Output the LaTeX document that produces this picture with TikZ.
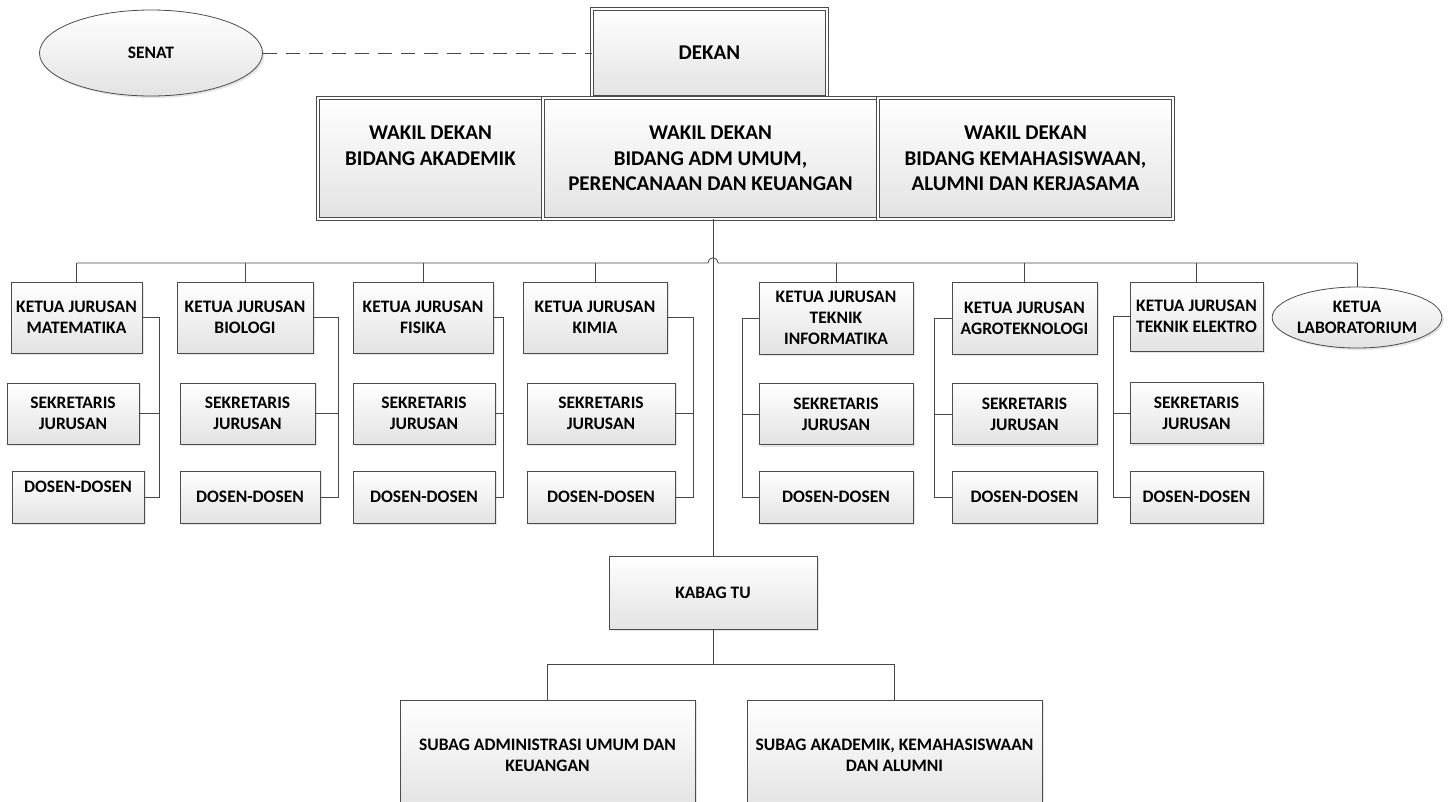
\documentclass[tikz,border=0pt]{standalone}
\usepackage{fontspec}
\setmainfont{Carlito}
\usetikzlibrary{calc,positioning,shapes,shadows}

\begin{document}
\begin{tikzpicture}[x=1pt,y=-1pt]
\tikzstyle{box}=[rectangle, draw=black!70, line width=0.8pt, top color=white, bottom color=black!11, drop shadow={shadow xshift=2pt, shadow yshift=-2pt, opacity=0.2}, inner sep=0pt, align=center, font=\bfseries\fontsize{17.5}{21}\selectfont]
\tikzstyle{dbox}=[box, double=white, double distance=2pt, line width=0.7pt, font=\bfseries\fontsize{21}{25.5}\selectfont]
\tikzstyle{oval}=[box, ellipse]
\tikzstyle{wire}=[draw=black!72, line width=0.8pt]
\path[use as bounding box, fill=white] (0,0) rectangle (1451,801);

\node[oval, minimum width=223pt, minimum height=86pt] (senat) at (151,53) {SENAT};
\node[dbox, minimum width=235pt, minimum height=88pt] (dekan) at (709.5,53) {DEKAN};
\node[dbox, minimum width=225pt, minimum height=121pt] (wa) at (430.5,158.5) {WAKIL DEKAN\\BIDANG AKADEMIK\\~};
\node[dbox, minimum width=335pt, minimum height=121pt] (wb) at (710.5,158.5) {WAKIL DEKAN\\BIDANG ADM UMUM,\\PERENCANAAN DAN KEUANGAN};
\node[dbox, minimum width=295pt, minimum height=121pt] (wc) at (1025.5,158.5) {WAKIL DEKAN\\BIDANG KEMAHASISWAAN,\\ALUMNI DAN KERJASAMA};

\node[box, minimum width=131pt, minimum height=71pt] (k1) at (76.5,317.5) {KETUA JURUSAN\\MATEMATIKA};
\node[box, minimum width=136pt, minimum height=71pt] (k2) at (245,317.5) {KETUA JURUSAN\\BIOLOGI};
\node[box, minimum width=140pt, minimum height=71pt] (k3) at (423,317.5) {KETUA JURUSAN\\FISIKA};
\node[box, minimum width=144pt, minimum height=71pt] (k4) at (595,317.5) {KETUA JURUSAN\\KIMIA};
\node[box, minimum width=154pt, minimum height=72pt] (k5) at (836,318) {KETUA JURUSAN\\TEKNIK\\INFORMATIKA};
\node[box, minimum width=145pt, minimum height=72pt] (k6) at (1024.5,318) {KETUA JURUSAN\\AGROTEKNOLOGI};
\node[box, minimum width=133pt, minimum height=69pt] (k7) at (1196.5,316.5) {KETUA JURUSAN\\TEKNIK ELEKTRO};
\node[oval, minimum width=168pt, minimum height=61pt] (lab) at (1357,317.5) {KETUA\\LABORATORIUM};

\node[box, minimum width=132pt, minimum height=61pt] (s1) at (73,413.5) {SEKRETARIS\\JURUSAN};
\node[box, minimum width=135pt, minimum height=61pt] (s2) at (247.5,413.5) {SEKRETARIS\\JURUSAN};
\node[box, minimum width=142pt, minimum height=61pt] (s3) at (424,413.5) {SEKRETARIS\\JURUSAN};
\node[box, minimum width=148pt, minimum height=61pt] (s4) at (601,413.5) {SEKRETARIS\\JURUSAN};
\node[box, minimum width=154pt, minimum height=61pt] (s5) at (836,414) {SEKRETARIS\\JURUSAN};
\node[box, minimum width=145pt, minimum height=61pt] (s6) at (1024.5,414) {SEKRETARIS\\JURUSAN};
\node[box, minimum width=133pt, minimum height=61pt] (s7) at (1196.5,413) {SEKRETARIS\\JURUSAN};

\node[box, minimum width=132pt, minimum height=52pt] (d1) at (78,497) {DOSEN-DOSEN\\~};
\node[box, minimum width=140pt, minimum height=52pt] (d2) at (250,497) {DOSEN-DOSEN};
\node[box, minimum width=142pt, minimum height=52pt] (d3) at (424,497) {DOSEN-DOSEN};
\node[box, minimum width=148pt, minimum height=52pt] (d4) at (601,497) {DOSEN-DOSEN};
\node[box, minimum width=154pt, minimum height=52pt] (d5) at (836,497) {DOSEN-DOSEN};
\node[box, minimum width=145pt, minimum height=52pt] (d6) at (1024.5,497) {DOSEN-DOSEN};
\node[box, minimum width=133pt, minimum height=52pt] (d7) at (1196.5,497) {DOSEN-DOSEN};

\node[box, minimum width=208pt, minimum height=73pt] (tu) at (713,592.5) {KABAG TU};
\node[box, minimum width=295pt, minimum height=110pt] (sa) at (547.5,755) {SUBAG ADMINISTRASI UMUM DAN\\KEUANGAN};
\node[box, minimum width=295pt, minimum height=110pt] (sb) at (894.5,755) {SUBAG AKADEMIK, KEMAHASISWAAN\\DAN ALUMNI};

\coordinate (bus) at (0,263);
\coordinate (br) at (0,664);
\draw[wire, dash pattern=on 14pt off 9pt] (senat) -- (dekan);
\draw[wire] (tu.north |- wb.south) -- (tu.north);
\draw[wire] (k1.north |- bus) -- (708,263) .. controls (709,256) and (717,256) .. (718,263) -- (lab.north |- bus);
\foreach \n in {k1,k2,k3,k4,k5,k6,k7,lab}
  \draw[wire] (\n.north) -- (\n.north |- bus);
\foreach \i/\x in {1/159,2/338,3/503,4/693,5/742,6/934,7/1113}{
  \coordinate (v\i) at (\x,0);
  \draw[wire] (k\i) -- (k\i -| v\i) |- (d\i);
  \draw[wire] (s\i) -- (s\i -| v\i);
}
\draw[wire] (tu.south) -- (tu.south |- br);
\draw[wire] (sa.north) |- (tu.south |- br) -| (sb.north);
\end{tikzpicture}
\end{document}
